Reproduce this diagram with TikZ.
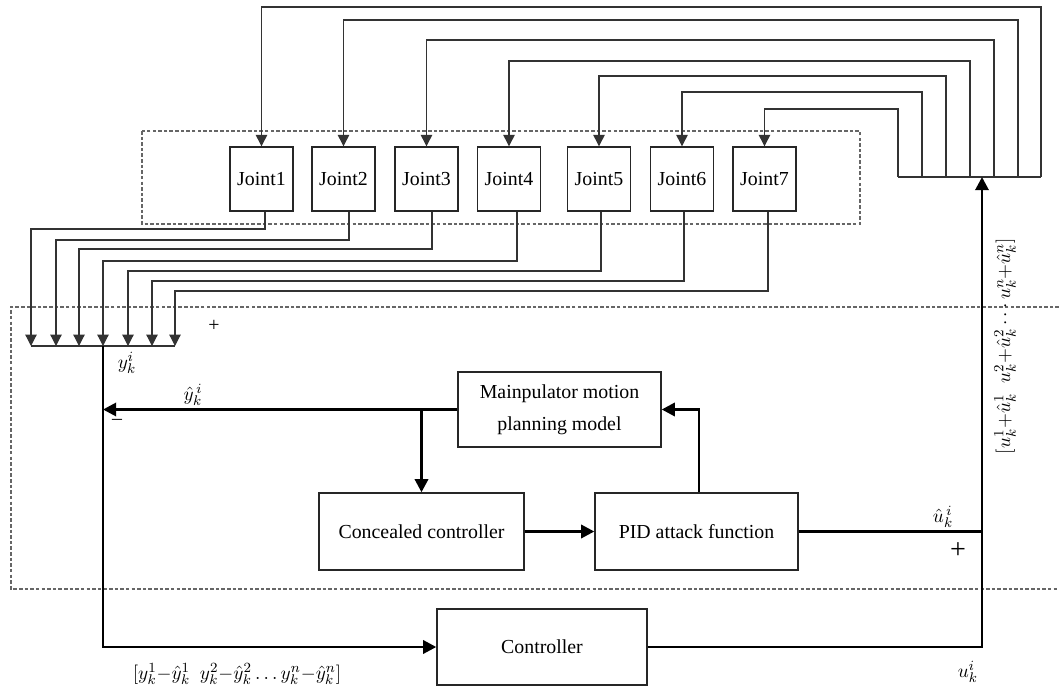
\documentclass[tikz,border=0pt]{standalone}
\usepackage{fontspec}
\setmainfont{Liberation Serif}
\usetikzlibrary{arrows.meta,calc}
\begin{document}
\begin{tikzpicture}[x=0.02cm,y=-0.02cm,
  font=\fontsize{11.3}{13}\selectfont,
  box/.style={draw=black!85, line width=0.8pt, inner sep=0pt, align=center},
  jointbox/.style={box, minimum width=1.26cm, minimum height=1.28cm},
  wire/.style={draw=black!80, line width=0.7pt},
  wirearrow/.style={wire, -{Triangle[length=6.5pt,width=6.5pt]}},
  bold/.style={draw=black, line width=1.6pt},
  boldarrow/.style={bold, -{Triangle[length=7.5pt,width=7.5pt]}},
  dashedbox/.style={draw=black!60, line width=0.6pt, dash pattern=on 2pt off 1.2pt},
  lbl/.style={inner sep=0pt}]
\useasboundingbox (0,0) rectangle (1059,686);

% dashed frames
\draw[dashedbox] (142,131) rectangle (860,224);
\draw[dashedbox] (1059,307) -- (11,307) -- (11,589) -- (1059,589);

% joints
\foreach \i/\x in {1/261.5,2/343.5,3/426.5,4/509,5/599,6/682,7/764.5}
  \node[jointbox] (j\i) at (\x,179) {Joint\i};

% top feedback wiring
\foreach \i/\x in {1/1041,2/1018,3/994,4/970,5/946,6/922,7/898}
  \coordinate (t\i) at (\x,177);
\draw[wire] (t7) -- (t1);
\foreach \i/\y in {1/7,2/20,3/40,4/61,5/76,6/92,7/109}
  \draw[wirearrow] (t\i) -- (t\i |- 0,\y) -| (j\i.north);

% joint outputs to bus
\foreach \i/\x in {1/31,2/56,3/79,4/103,5/128,6/152,7/175}
  \coordinate (b\i) at (\x,346);
\draw[wire] (b1) -- (b7);
\foreach \i/\dx/\y in {1/3.5/229,2/5.5/240,3/5.5/249,4/8/261,5/2/271,6/2/281,7/3.5/291}
  \draw[wirearrow] ($(j\i.south)+(\dx,0)$) |- (b\i |- 0,\y) -- (b\i);

% blocks
\node[box, minimum width=4.06cm, minimum height=1.5cm, font=\fontsize{11.3}{18}\selectfont] (model) at (559.5,409.5) {Mainpulator motion\\planning model};
\node[box, minimum width=4.1cm, minimum height=1.54cm] (conc) at (421.5,531.5) {Concealed controller};
\node[box, minimum width=4.06cm, minimum height=1.54cm] (pid) at (696.5,531.5) {PID attack function};
\node[box, minimum width=4.2cm, minimum height=1.52cm] (ctrl) at (542,647) {Controller};

\coordinate (sum) at (982,177);

% main connections
\draw[boldarrow] (b4) |- (ctrl.west);
\draw[boldarrow] (model.west) -- (model.west -| b4);
\draw[boldarrow] (conc.north |- model.west) -- (conc.north);
\draw[boldarrow] (conc.east) -- (pid.west);
\draw[boldarrow] ($(pid.north)+(2.5,0)$) |- (model.east);
\draw[bold] (pid.east) -- (pid.east -| sum);
\draw[boldarrow] (ctrl.east) -| (sum);

% labels
\node[lbl] (plus1) at (214,326) {+};
\node[lbl] (ylab) at (127,363) {$y_k^i$};
\node[lbl] (yhat) at (193,395) {$\hat{y}_k^{\,i}$};
\node[lbl] (minus) at (117,422) {\textendash};
\node[lbl] (uhat) at (943,517) {$\hat{u}_k^{\,i}$};
\node[lbl, font=\fontsize{16}{16}\selectfont] (plus2) at (958,551) {+};
\node[lbl] (ulab) at (968,672) {$u_k^i$};
\node[lbl] (errlab) at (237,674) {$[y_k^1{-}\hat{y}_k^1\ \ y_k^2{-}\hat{y}_k^2 \ldots y_k^n{-}\hat{y}_k^n]$};
\node[lbl, rotate=90] (ulab2) at (1005,346) {$[u_k^1{+}\hat{u}_k^1\ \ u_k^2{+}\hat{u}_k^2\cdots u_k^n{+}\hat{u}_k^n]$};
\end{tikzpicture}
\end{document}
